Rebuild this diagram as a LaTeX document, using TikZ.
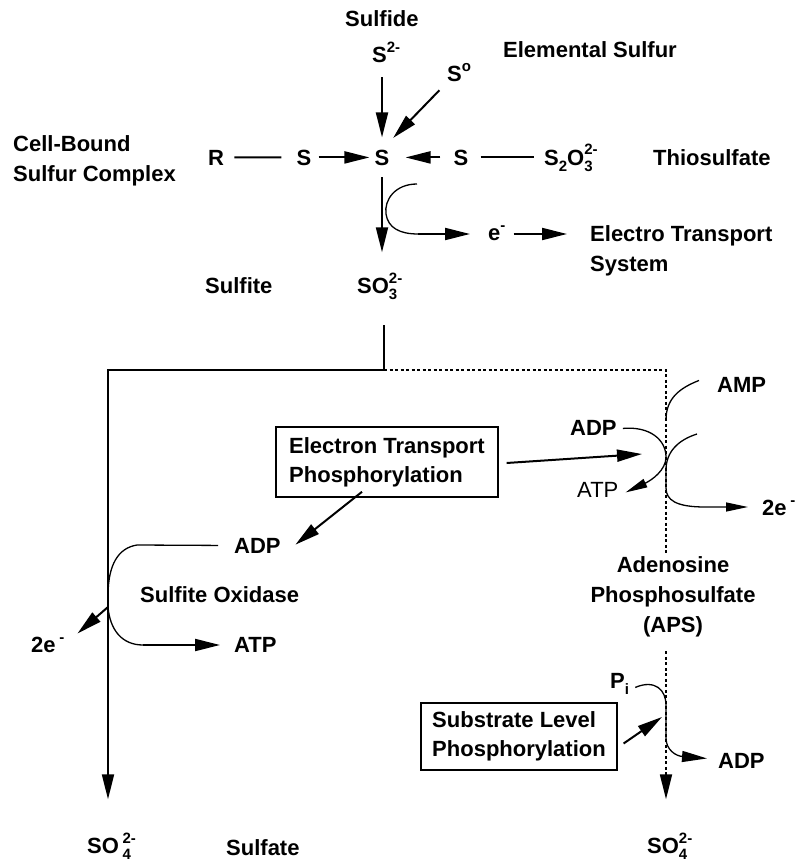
\documentclass[tikz,border=0pt]{standalone}
\usepackage{fontspec}
\setmainfont{Liberation Sans}
\usetikzlibrary{arrows.meta}
\newcommand\up[1]{\raisebox{10pt}{\fontsize{15}{15}\selectfont #1}}
\newcommand\dn[1]{\raisebox{-6pt}{\fontsize{15}{15}\selectfont #1}}
\newcommand\ud[2]{\rlap{\dn{#2}}\up{#1}}
\begin{document}
\begin{tikzpicture}[x=1pt,y=-1pt,
  txt/.style={inner sep=0pt,font=\fontsize{22}{30}\selectfont\bfseries},
  lbl/.style={txt,anchor=base west},
  main/.style={line width=2pt},
  arr/.style={line width=2pt,-{Triangle[length=25pt,width=12pt]}},
  sarr/.style={line width=1.3pt,-{Triangle[length=22pt,width=9pt]}},
  thinl/.style={line width=1.3pt},
  dotl/.style={line width=1.8pt,dash pattern=on 3pt off 2.5pt},
  boxn/.style={txt,draw,line width=1.6pt,align=left,inner xsep=13pt,minimum height=70pt,font=\fontsize{22}{29}\selectfont\bfseries}]
\useasboundingbox (0,0) rectangle (805,861);
\fill[white] (0,0) rectangle (805,861);

% text nodes
\node[lbl] (sulfide) at (345,27) {Sulfide};
\node[lbl] (s2) at (372,63) {S\up{2-}};
\node[lbl] (elem) at (503,58) {Elemental Sulfur};
\node[lbl] (so) at (447,82) {S\up{o}};
\node[txt,anchor=west,align=left] (cell) at (13,161) {Cell-Bound\\Sulfur Complex};
\node[lbl] (r) at (208,165) {R};
\node[txt,anchor=base] (sl) at (304,165) {S};
\node[txt,anchor=base] (sc) at (382,165) {S};
\node[txt,anchor=base] (sr) at (461,165) {S};
\node[lbl] (thio) at (544,165) {S\dn{2}O\ud{2-}{3}};
\node[lbl] (thiol) at (653,165) {Thiosulfate};
\node[lbl] (e) at (488,240) {e\up{-}};
\node[txt,anchor=west,align=left] (ets) at (590,251) {Electro Transport\\System};
\node[lbl] (sulfite) at (205,293) {Sulfite};
\node[lbl] (so3) at (357,293) {SO\ud{2-}{3}};

\node[boxn] (etp) at (387,462) {Electron Transport\\Phosphorylation};
\node[boxn,minimum height=67pt,inner xsep=11pt] (slp) at (519,736.5) {Substrate Level\\Phosphorylation};

\node[lbl] (amp) at (717,392) {AMP};
\node[lbl] (adpr) at (570,435) {ADP};
\node[lbl,font=\fontsize{22}{30}\selectfont] (atpr) at (577,497) {ATP};
\node[lbl] (twoer) at (762,515) {2e\,\up{-}};
\node[txt,align=center] (aps) at (673,597) {Adenosine\\Phosphosulfate\\(APS)};
\node[lbl] (adpl) at (234,553) {ADP};
\node[lbl] (sox) at (140,602) {Sulfite Oxidase};
\node[lbl] (twoel) at (31,652) {2e\,\up{-}};
\node[lbl] (atpl) at (234,652) {ATP};
\node[lbl] (pi) at (610,688) {P\dn{i}};
\node[lbl] (adpb) at (718,768) {ADP};
\node[lbl] (so4l) at (87,853) {SO\,\ud{2-}{4}};
\node[lbl] (sulfate) at (226,855) {Sulfate};
\node[lbl] (so4r) at (647,853) {SO\ud{2-}{4}};

% coordinates
\coordinate (top) at (384,370);
\coordinate (tl) at (108,370);
\coordinate (tr) at (666,370);
\coordinate (k1) at (417,184);
\coordinate (k3) at (418,234);
\coordinate (k4) at (697,434);
\coordinate (k5) at (705,507);
\coordinate (k6) at (143,645);
\coordinate (jl) at (108,607);
\coordinate (j1) at (642,454);
\coordinate (j2) at (662,717);

% upper part
\draw[arr,shorten <=14pt,shorten >=12pt] (s2.south -| sc) -- (sc.north);
\draw[arr,shorten <=11pt,shorten >=16pt] (so.south west) -- (sc.north);
\draw[main,shorten <=10pt,shorten >=15pt] (r.east) -- (sl.west);
\draw[arr,shorten <=7pt,shorten >=5pt] (sl.east) -- (sc.west);
\draw[arr,shorten <=13pt,shorten >=16pt] (sr.west) -- (sc.east);
\draw[main,shorten <=12pt,shorten >=10pt] (sr.east) -- (sr.east -| thio.west);
\draw[arr,shorten <=12pt,shorten >=20pt] (sc.south) -- (sc.south |- so3.north);
\draw[thinl] (k1) .. controls (395,184) and (384,200) .. (386,214) .. controls (388,228) and (400,234) .. (k3);
\draw[arr,shorten >=18pt] (k3) -- (k3 -| e.west);
\draw[arr,shorten <=8pt,shorten >=23pt] (k3 -| e.east) -- (k3 -| ets.west);

% frame
\draw[main,shorten <=26pt] (so3.south -| top) -- (top);
\draw[arr,shorten >=33pt] (top) -- (tl) -- (tl |- so4l.north);
\draw[dotl,shorten >=4pt] (top) -- (tr) -- (tr |- aps.north);
\draw[dotl,-{Triangle[length=25pt,width=12pt]},shorten <=14pt,shorten >=33pt] (aps.south -| tr) -- (tr |- so4r.north);

% right junction
\draw[thinl] ([xshift=-18pt,yshift=4pt]amp.west) .. controls (680,388) and (666,398) .. (666,420);
\draw[sarr] ([xshift=6pt,yshift=-1pt]adpr.east) .. controls (650,426) and (666,440) .. (666,457) .. controls (666,470) and (652,480) .. ([xshift=7pt,yshift=-3pt]atpr.east);
\draw[sarr,shorten >=14pt] (k4) .. controls (678,440) and (666,452) .. (666,470) -- (666,488) .. controls (666,500) and (676,507) .. (k5) -- (k5 -| twoer.west);
\draw[arr] ([xshift=8pt,yshift=-1pt]etp.east) -- (j1);
\draw[arr] ([xshift=-25pt,yshift=6pt]etp.south) -- ([xshift=38pt,yshift=-7pt]adpl.north);

% left junction
\draw[thinl] ([xshift=-16pt]adpl.west) -- (137,545) .. controls (118,548) and (108,565) .. (108,596);
\draw[arr] (jl) -- ([xshift=13pt,yshift=3pt]twoel.north east);
\draw[thinl] (jl) .. controls (110,630) and (122,645) .. (k6);
\draw[arr,shorten >=14pt] (k6) -- (k6 -| atpl.west);

% lower right
\draw[sarr,-{Triangle[length=25pt,width=11pt]}] ([xshift=6pt,yshift=-4pt]pi.east) .. controls (655,679) and (666,690) .. (666,705) -- (666,738) .. controls (666,750) and (676,756) .. ([xshift=-11pt,yshift=2pt]adpb.west);
\draw[arr] ([xshift=6pt,yshift=-7pt]slp.east) -- (j2);
\end{tikzpicture}
\end{document}
